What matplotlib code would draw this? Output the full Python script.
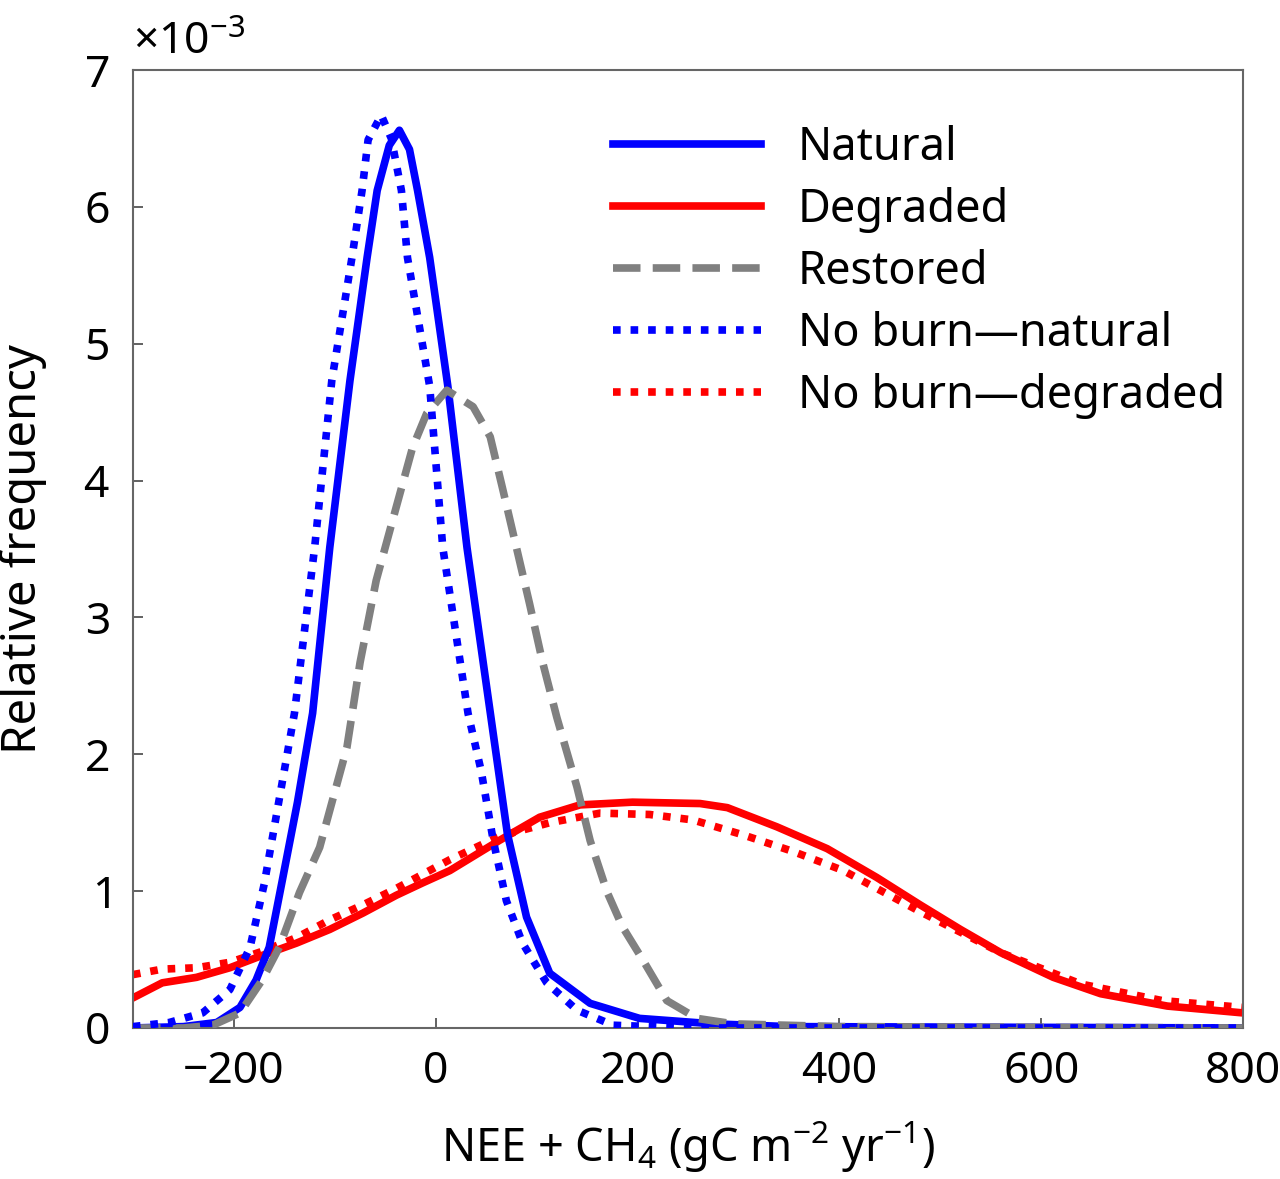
import matplotlib
matplotlib.use('Agg')
import matplotlib.pyplot as plt
from matplotlib.ticker import ScalarFormatter

# values, y in units of 1e-3
nat_x = [-300, -250, -217, -194, -178, -165, -152, -137, -122, -105, -85, -68, -58, -46, -36,
         -26, -18, -6, 12, 31, 57, 71, 90, 113, 153, 202, 275, 350, 800]
nat_y = [0, 0.01, 0.04, 0.15, 0.35, 0.59, 1.08, 1.65, 2.30, 3.51, 4.73, 5.63, 6.12, 6.45, 6.56,
         6.42, 6.12, 5.63, 4.69, 3.51, 2.15, 1.42, 0.81, 0.40, 0.18, 0.07, 0.03, 0.01, 0]

deg_x = [-300, -271, -237, -204, -172, -138, -105, -72, -39, -13, 14, 63, 103, 143, 195, 262,
         289, 338, 388, 437, 480, 520, 560, 612, 659, 725, 800]
deg_y = [0.22, 0.33, 0.37, 0.44, 0.53, 0.62, 0.72, 0.84, 0.97, 1.06, 1.15, 1.37, 1.54, 1.63, 1.65,
         1.64, 1.61, 1.47, 1.31, 1.10, 0.90, 0.72, 0.55, 0.37, 0.25, 0.16, 0.11]

res_x = [-300, -250, -221, -194, -172, -155, -135, -115, -88, -75, -59, -39, -23, -9, 11, 37,
         54, 66, 80, 93, 106, 120, 140, 153, 170, 185, 205, 229, 259, 295, 400, 800]
res_y = [0, 0, 0.02, 0.11, 0.35, 0.59, 0.99, 1.32, 2.05, 2.67, 3.27, 3.81, 4.24, 4.49, 4.66, 4.54,
         4.32, 3.95, 3.51, 3.10, 2.67, 2.27, 1.76, 1.37, 0.99, 0.74, 0.50, 0.20, 0.07, 0.03, 0.01, 0]

nbn_x = [-300, -264, -231, -204, -184, -170, -140, -120, -103, -83, -73, -67, -54, -44, -34, -28,
         -6, 7, 32, 45, 57, 70, 86, 110, 140, 176, 250, 800]
nbn_y = [0.01, 0.04, 0.11, 0.28, 0.59, 1.05, 2.30, 3.51, 4.73, 5.63, 6.12, 6.49, 6.67, 6.50, 6.12, 5.63,
         4.69, 3.51, 2.30, 1.88, 1.37, 0.93, 0.62, 0.33, 0.13, 0.02, 0, 0]

nbd_x = [-300, -271, -237, -204, -172, -138, -105, -72, -39, 14, 63, 113, 163, 212, 255, 305,
         354, 404, 480, 560, 640, 720, 800]
nbd_y = [0.39, 0.43, 0.44, 0.48, 0.56, 0.66, 0.79, 0.90, 1.02, 1.23, 1.40, 1.50, 1.57, 1.56, 1.52, 1.41,
         1.29, 1.15, 0.85, 0.55, 0.32, 0.20, 0.15]

labels = ['Natural', 'Degraded', 'Restored', 'No burn\u2014natural', 'No burn\u2014degraded']
xticks = [-200, 0, 200, 400, 600, 800]
yticks = [0, 1, 2, 3, 4, 5, 6, 7]

plt.rcParams['font.family'] = ['Noto Sans', 'DejaVu Sans']
plt.rcParams['mathtext.fontset'] = 'custom'
plt.rcParams['mathtext.rm'] = 'Noto Sans'
plt.rcParams['mathtext.it'] = 'Noto Sans'

fig = plt.figure(figsize=(12.8, 11.79), dpi=100)
ax = fig.add_axes([0.1039, 0.1281, 0.8672, 0.8125])

def sc(v):
    return [a * 1e-3 for a in v]

lw = 5.5
blue = (0, 0, 1)
red = (1, 0, 0)
gray = (0.5, 0.5, 0.5)
dots = (0, (1, 1.3))

h_deg, = ax.plot(deg_x, sc(deg_y), color=red, lw=lw, zorder=2, solid_joinstyle='round')
h_nbd, = ax.plot(nbd_x, sc(nbd_y), color=red, lw=lw, ls=dots, zorder=2.1,
                 dash_capstyle='butt')
h_nat, = ax.plot(nat_x, sc(nat_y), color=blue, lw=lw, zorder=2.5, solid_joinstyle='round')
h_res, = ax.plot(res_x, sc(res_y), color=gray, lw=lw, ls=(0, (3.6, 1.6)), zorder=3,
                 dash_capstyle='butt')
h_nbn, = ax.plot(nbn_x, sc(nbn_y), color=blue, lw=lw, ls=dots, zorder=5,
                 dash_capstyle='butt')

ax.set_xlim(-300, 800)
ax.set_ylim(0, 7e-3)
ax.set_xticks(xticks)
ax.set_yticks(sc(yticks))

fmt = ScalarFormatter(useMathText=True)
fmt.set_powerlimits((-3, -3))
ax.yaxis.set_major_formatter(fmt)
ax.yaxis.get_offset_text().set_fontsize(32)
ax.yaxis.OFFSETTEXTPAD = 11

ax.tick_params(direction='in', length=7, width=1.3, labelsize=32, color='#555555')
ax.tick_params(axis='x', pad=16)
ax.tick_params(axis='y', pad=17)
for s in ax.spines.values():
    s.set_color('#666666')
    s.set_linewidth(1.5)

ax.set_xlabel('NEE + CH$_4$ (gC m$^{-2}$ yr$^{-1}$)', fontsize=32.5, labelpad=18)
ax.set_ylabel('Relative frequency', fontsize=34, labelpad=26)

ax.legend([h_nat, h_deg, h_res, h_nbn, h_nbd], labels, loc='upper left',
          bbox_to_anchor=(0.432, 0.943), frameon=False, fontsize=32.5,
          handlelength=3.3, handletextpad=0.8, labelspacing=0.355,
          borderpad=0, borderaxespad=0)

plt.savefig('out.png', dpi=100)
